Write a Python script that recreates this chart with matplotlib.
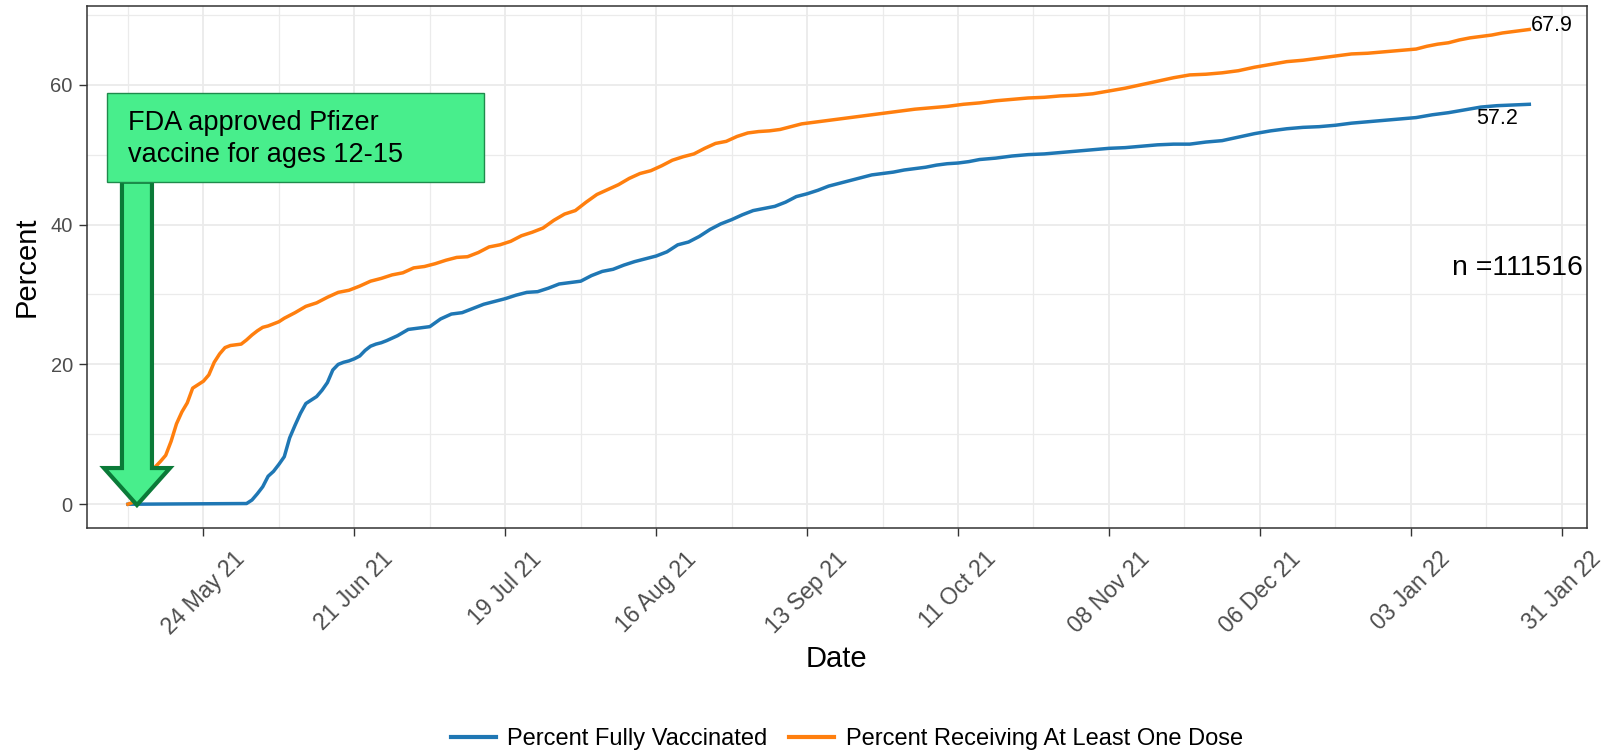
import matplotlib

matplotlib.use("Agg")
import matplotlib.pyplot as plt
import matplotlib.dates as mdates
import pandas as pd
from matplotlib.patches import FancyArrow, Rectangle

plt.rcParams["font.family"] = ["Liberation Sans", "DejaVu Sans"]

# data (day offsets from the start date)
START = "2021-05-10"

dose_days = [0, 1, 2, 3, 4, 5, 6, 7, 8, 9, 10, 11, 12, 13, 14, 15, 16, 17, 18, 19,
             20, 21, 22, 23, 24, 25, 26, 27, 28, 29, 30, 31, 33, 35, 37, 39, 41, 43,
             45, 47, 49, 51, 53, 55, 57, 59, 61, 63, 65, 67, 69, 71, 73, 75, 77, 79,
             81, 83, 85, 87, 89, 91, 93, 95, 97, 99, 101, 103, 105, 107, 109, 111,
             113, 115, 117, 119, 121, 123, 125, 127, 129, 131, 134, 137, 140, 143,
             146, 149, 152, 155, 158, 161, 164, 167, 170, 173, 176, 179, 182, 185,
             188, 191, 194, 197, 200, 203, 206, 209, 212, 215, 218, 221, 224, 227,
             230, 233, 236, 239, 241, 243, 245, 247, 249, 251, 253, 255, 257, 259, 260]
dose_pct = [0, 0.3, 1.5, 3, 4.3, 5.3, 6.1, 7, 9, 11.5, 13.2, 14.5, 16.6, 17.1, 17.6,
            18.5, 20.3, 21.5, 22.4, 22.7, 22.8, 22.9, 23.5, 24.2, 24.8, 25.3, 25.5,
            25.8, 26.1, 26.6, 27, 27.4, 28.3, 28.8, 29.6, 30.3, 30.6, 31.2, 31.9,
            32.3, 32.8, 33.1, 33.8, 34, 34.4, 34.9, 35.3, 35.4, 36, 36.8, 37.1, 37.6,
            38.4, 38.9, 39.5, 40.6, 41.5, 42, 43.2, 44.3, 45, 45.7, 46.6, 47.3, 47.7,
            48.4, 49.2, 49.7, 50.1, 50.9, 51.6, 51.9, 52.6, 53.1, 53.3, 53.4, 53.6,
            54, 54.4, 54.6, 54.8, 55, 55.3, 55.6, 55.9, 56.2, 56.5, 56.7, 56.9, 57.2,
            57.4, 57.7, 57.9, 58.1, 58.2, 58.4, 58.5, 58.7, 59.1, 59.5, 60, 60.5, 61,
            61.4, 61.5, 61.7, 62, 62.5, 62.9, 63.3, 63.5, 63.8, 64.1, 64.4, 64.5,
            64.7, 64.9, 65.1, 65.5, 65.8, 66, 66.4, 66.7, 66.9, 67.1, 67.4, 67.6,
            67.8, 67.9]

full_days = [0, 22, 23, 24, 25, 26, 27, 28, 29, 30, 31, 32, 33, 34, 35, 36, 37, 38,
             39, 40, 41, 42, 43, 44, 45, 46, 47, 48, 50, 52, 54, 56, 58, 60, 62, 64,
             66, 68, 70, 72, 74, 76, 78, 80, 82, 84, 86, 88, 90, 92, 94, 96, 98, 100,
             102, 104, 106, 108, 110, 112, 114, 116, 118, 120, 122, 124, 126, 128,
             130, 132, 134, 136, 138, 140, 142, 144, 146, 148, 150, 152, 154, 156,
             158, 161, 164, 167, 170, 173, 176, 179, 182, 185, 188, 191, 194, 197,
             200, 203, 206, 209, 212, 215, 218, 221, 224, 227, 230, 233, 236, 239,
             242, 245, 248, 251, 254, 257, 260]
full_pct = [0, 0.1, 0.6, 1.5, 2.5, 4, 4.7, 5.7, 6.8, 9.5, 11.3, 13, 14.4, 14.9, 15.4,
            16.3, 17.4, 19.2, 20, 20.3, 20.5, 20.8, 21.2, 22, 22.6, 22.9, 23.1, 23.4,
            24.1, 25, 25.2, 25.4, 26.5, 27.2, 27.4, 28, 28.6, 29, 29.4, 29.9, 30.3,
            30.4, 30.9, 31.5, 31.7, 31.9, 32.7, 33.3, 33.6, 34.2, 34.7, 35.1, 35.5,
            36.1, 37.1, 37.5, 38.3, 39.3, 40.1, 40.7, 41.4, 42, 42.3, 42.6, 43.2, 44,
            44.4, 44.9, 45.5, 45.9, 46.3, 46.7, 47.1, 47.3, 47.5, 47.8, 48, 48.2,
            48.5, 48.7, 48.8, 49, 49.3, 49.5, 49.8, 50, 50.1, 50.3, 50.5, 50.7, 50.9,
            51, 51.2, 51.4, 51.5, 51.5, 51.8, 52, 52.5, 53, 53.4, 53.7, 53.9, 54,
            54.2, 54.5, 54.7, 54.9, 55.1, 55.3, 55.7, 56, 56.4, 56.8, 57, 57.1, 57.2]

series_labels = ["Percent Fully Vaccinated", "Percent Receiving At Least One Dose"]
n_total = 111516
note_text = "FDA approved Pfizer\nvaccine for ages 12-15"

BLUE = "#1F77B4"
ORANGE = "#FF7F0E"
GRID = "#EBEBEB"
DARK = "#333333"
GREEN = "#48EE8C"
DARK_GREEN = "#0B7A38"

start = pd.Timestamp(START)
dose_dates = start + pd.to_timedelta(dose_days, unit="D")
full_dates = start + pd.to_timedelta(full_days, unit="D")

fig = plt.figure(figsize=(16.16, 7.53), dpi=100)
ax = fig.add_axes([0.05365, 0.2988, 0.9284, 0.69363])

ax.plot(full_dates, full_pct, color=BLUE, lw=2.5, label=series_labels[0], zorder=3)
ax.plot(dose_dates, dose_pct, color=ORANGE, lw=2.5, label=series_labels[1], zorder=3)

# end labels
ax.annotate(f"{dose_pct[-1]:.1f}", (dose_dates[-1], dose_pct[-1]), xytext=(1, 3),
            textcoords="offset points", ha="left", va="center", fontsize=15.5)
ax.annotate(f"{full_pct[-1]:.1f}", (full_dates[-1], full_pct[-1]), xytext=(-23, -10),
            textcoords="offset points", ha="center", va="center", fontsize=15.5)

ax.text(0.9534, 0.498, f"n ={n_total}", transform=ax.transAxes, ha="center",
        va="center", fontsize=20.5, clip_on=True)

# axes limits and ticks
ax.set_xlim(mdates.date2num(start) - 7.66, mdates.date2num(dose_dates[-1]) + 10.7)
ax.set_ylim(-3.4, 71.3)

major = pd.date_range("2021-05-24", "2022-01-31", freq="28D")
minor = pd.date_range("2021-05-10", "2022-01-31", freq="28D")
ax.set_xticks(major)
ax.set_xticks(minor, minor=True)
ax.xaxis.set_major_formatter(mdates.DateFormatter("%d %b %y"))
ax.set_yticks([0, 20, 40, 60])
ax.set_yticks([10, 30, 50, 70], minor=True)

ax.grid(which="major", color=GRID, lw=1.3, zorder=0)
ax.grid(which="minor", color=GRID, lw=0.9, zorder=0)
ax.set_axisbelow(True)

ax.tick_params(which="major", length=6, width=1, color=DARK, labelcolor="#4D4D4D")
ax.tick_params(axis="y", labelsize=14.5, pad=4)
ax.tick_params(axis="x", labelsize=16.5, pad=8)
ax.tick_params(which="minor", length=0)
for lab in ax.get_xticklabels():
    lab.set_rotation(45)
    lab.set_ha("center")
for sp in ax.spines.values():
    sp.set_color(DARK)
    sp.set_linewidth(1.1)

ax.set_xlabel("Date", fontsize=21, labelpad=4)
ax.set_ylabel("Percent", fontsize=21, labelpad=7)

# annotation: arrow and text box
arrow = FancyArrow(0.0335, 0.663, 0, 0.044 - 0.663, width=0.02, head_width=0.044,
                   head_length=0.0708, length_includes_head=True,
                   transform=ax.transAxes, facecolor=GREEN, edgecolor=DARK_GREEN,
                   lw=3, zorder=5, joinstyle="miter")
ax.add_patch(arrow)
box = Rectangle((0.0133, 0.663), 0.2648 - 0.0133, 0.8329 - 0.663,
                transform=ax.transAxes, facecolor=GREEN, edgecolor="#1F8A4C",
                lw=1, zorder=6)
ax.add_patch(box)
ax.text(0.0273, 0.745, note_text, transform=ax.transAxes, ha="left", va="center",
        fontsize=19.5, linespacing=1.3, zorder=7)

fig.legend(loc="center", bbox_to_anchor=(0.524, 0.0186), ncol=2, frameon=False,
           fontsize=17, handlelength=1.9, handletextpad=0.5, columnspacing=0.9)
for line in fig.legends[0].get_lines():
    line.set_linewidth(3)

fig.savefig("out.png", dpi=100)
